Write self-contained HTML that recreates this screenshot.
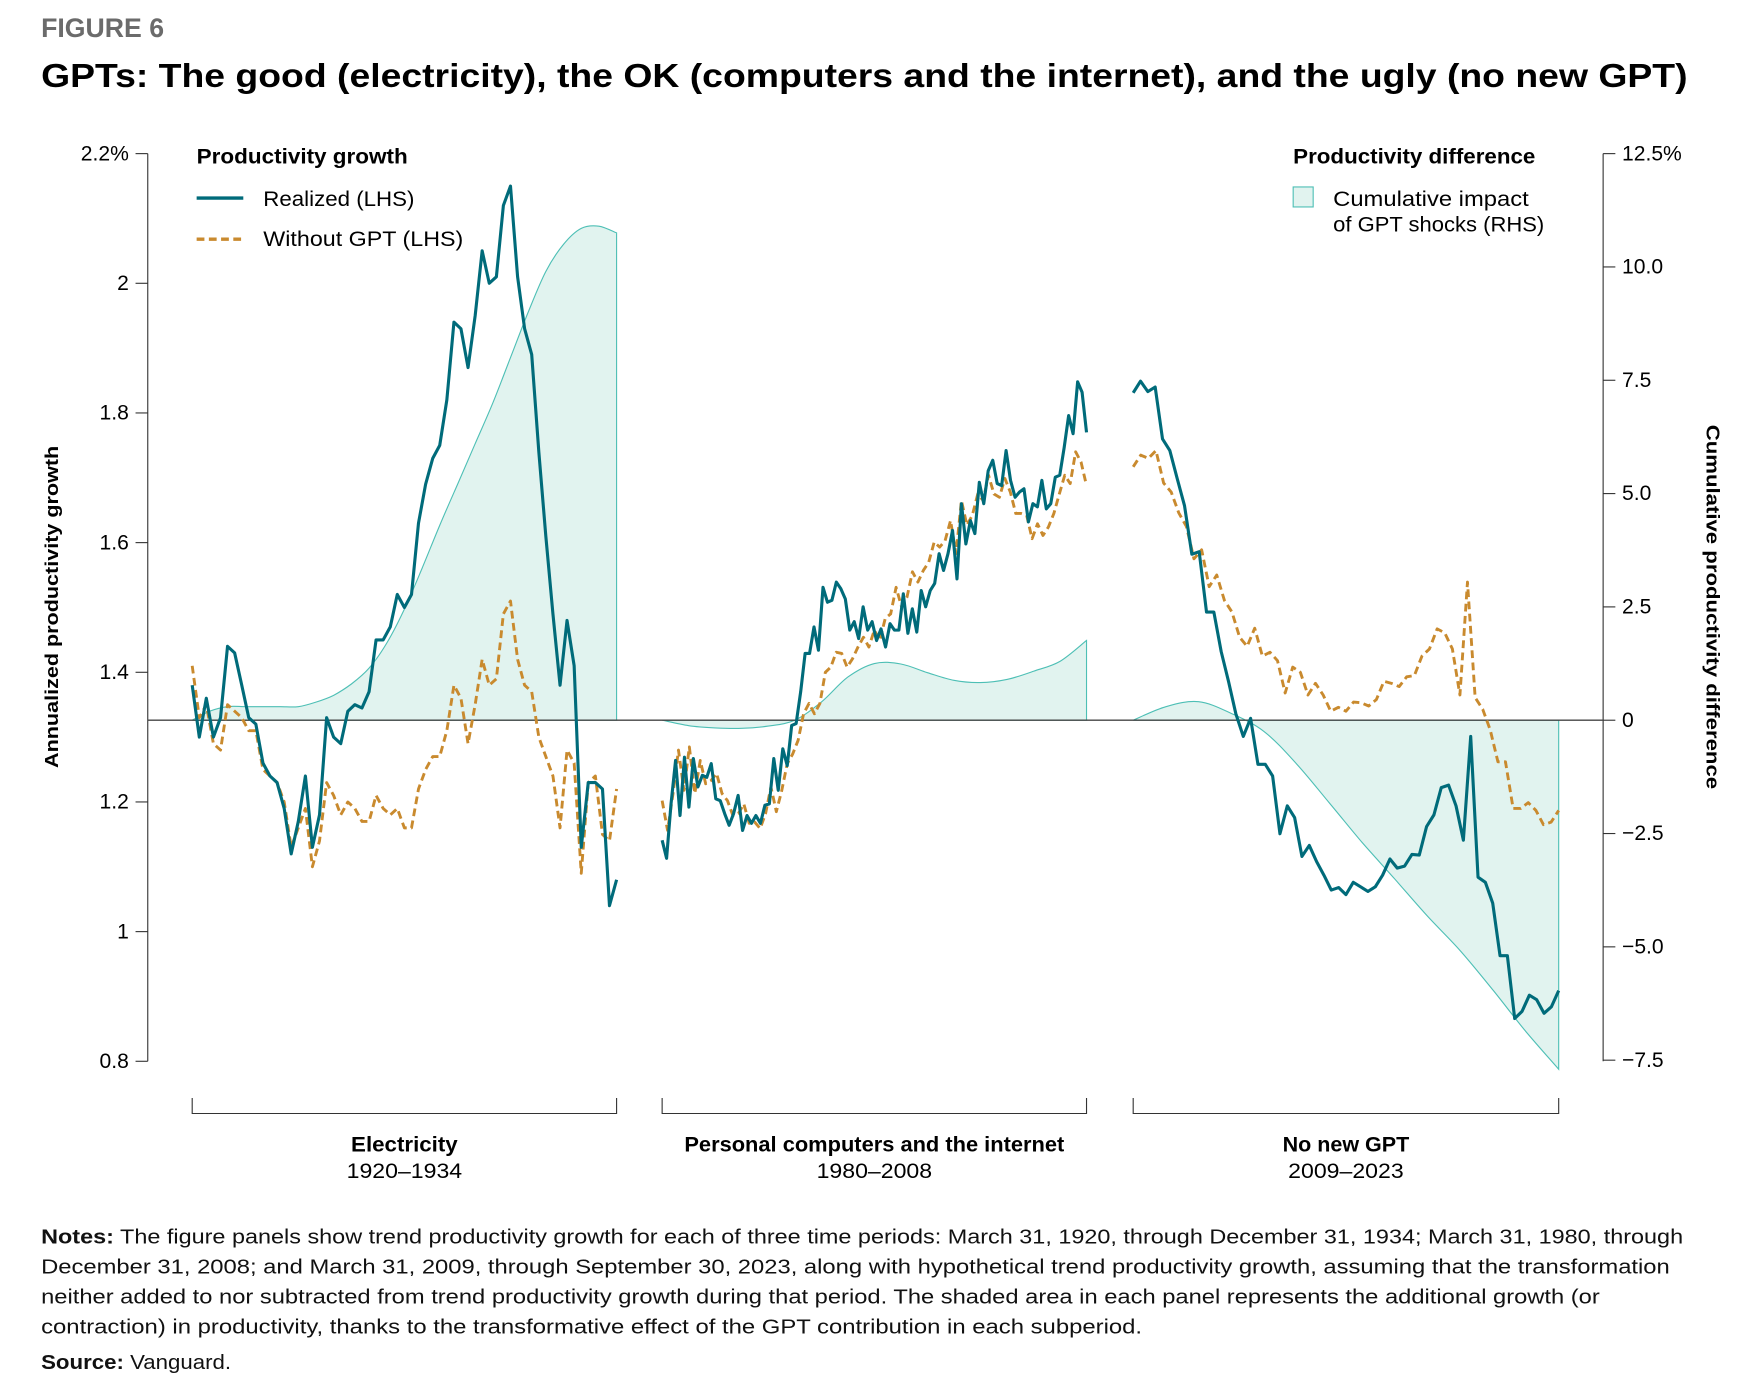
<!DOCTYPE html>
<html><head><meta charset="utf-8"><style>
html,body{margin:0;padding:0;background:#fff;}
svg{display:block;font-family:"Liberation Sans",sans-serif;}
</style></head><body>
<svg id="chart" width="1742" height="1396" viewBox="0 0 1568 1256" xmlns="http://www.w3.org/2000/svg">
<text x="37" y="33" font-size="24" font-weight="bold" fill="#6b6b6b">FIGURE 6</text>
<text x="37" y="78" font-size="30" font-weight="bold" fill="#000" textLength="1482" lengthAdjust="spacingAndGlyphs">GPTs: The good (electricity), the OK (computers and the internet), and the ugly (no new GPT)</text>
<g id="axes"></g>
<g id="areas"></g>
<line x1="133" y1="648" x2="1443" y2="648" stroke="#444" stroke-width="1.2"/>
<g id="lines"></g>
<g>
<text x="177" y="147" font-size="19" font-weight="bold" textLength="190" lengthAdjust="spacingAndGlyphs">Productivity growth</text>
<line x1="177" y1="178" x2="219" y2="178" stroke="#006b7a" stroke-width="3"/>
<text x="237" y="185" font-size="19" textLength="136" lengthAdjust="spacingAndGlyphs">Realized (LHS)</text>
<line x1="177" y1="215" x2="219" y2="215" stroke="#c98a2e" stroke-width="3" stroke-dasharray="7,4"/>
<text x="237" y="221" font-size="19" textLength="180" lengthAdjust="spacingAndGlyphs">Without GPT (LHS)</text>
</g>
<g>
<text x="1164" y="147" font-size="19" font-weight="bold" textLength="218" lengthAdjust="spacingAndGlyphs">Productivity difference</text>
<rect x="1164" y="168" width="18" height="18" fill="#e1f3ef" stroke="#4dbfb5"/>
<text x="1200" y="185" font-size="19" textLength="176" lengthAdjust="spacingAndGlyphs">Cumulative impact</text>
<text x="1200" y="208" font-size="19" textLength="190" lengthAdjust="spacingAndGlyphs">of GPT shocks (RHS)</text>
</g>
<text transform="translate(52,546) rotate(-90)" text-anchor="middle" font-size="17" font-weight="bold" textLength="290" lengthAdjust="spacingAndGlyphs">Annualized productivity growth</text>
<text transform="translate(1536,546) rotate(90)" text-anchor="middle" font-size="17" font-weight="bold" textLength="328" lengthAdjust="spacingAndGlyphs">Cumulative productivity difference</text>
<g id="panels"></g>
<g font-size="18" fill="#111">
<text x="37" y="1119" textLength="1478" lengthAdjust="spacingAndGlyphs"><tspan font-weight="bold">Notes:</tspan> The figure panels show trend productivity growth for each of three time periods: March 31, 1920, through December 31, 1934; March 31, 1980, through</text>
<text x="37" y="1146" textLength="1466" lengthAdjust="spacingAndGlyphs">December 31, 2008; and March 31, 2009, through September 30, 2023, along with hypothetical trend productivity growth, assuming that the transformation</text>
<text x="37" y="1173" textLength="1403" lengthAdjust="spacingAndGlyphs">neither added to nor subtracted from trend productivity growth during that period. The shaded area in each panel represents the additional growth (or</text>
<text x="37" y="1200" textLength="991" lengthAdjust="spacingAndGlyphs">contraction) in productivity, thanks to the transformative effect of the GPT contribution in each subperiod.</text>
<text x="37" y="1232" textLength="171" lengthAdjust="spacingAndGlyphs"><tspan font-weight="bold">Source:</tspan> Vanguard.</text>
</g>
</svg>
<script>
const leftTicks = [2.2, 2.0, 1.8, 1.6, 1.4, 1.2, 1.0, 0.8];
const leftTickLabels = ["2.2%", "2", "1.8", "1.6", "1.4", "1.2", "1", "0.8"];
const rightTicks = [12.5, 10, 7.5, 5, 2.5, 0, -2.5, -5, -7.5];
const rightTickLabels = ["12.5%", "10.0", "7.5", "5.0", "2.5", "0", "\u22122.5", "\u22125.0", "\u22127.5"];
const panelNames = ["Electricity", "Personal computers and the internet", "No new GPT"];
const panelNameWidths = [96, 342, 114];
const panelYears = ["1920\u20131934", "1980\u20132008", "2009\u20132023"];

const elecRealized = [1.38,1.30,1.36,1.30,1.33,1.44,1.43,1.38,1.33,1.32,1.26,1.24,1.23,1.19,1.12,1.17,1.24,1.13,1.18,1.33,1.30,1.29,1.34,1.35,1.345,1.37,1.45,1.45,1.47,1.52,1.50,1.52,1.63,1.69,1.73,1.75,1.82,1.94,1.93,1.87,1.95,2.05,2.00,2.01,2.12,2.15,2.01,1.93,1.89,1.74,1.61,1.49,1.38,1.48,1.41,1.13,1.23,1.23,1.22,1.04,1.08];
const elecWithout = [1.41,1.33,1.35,1.29,1.28,1.35,1.34,1.33,1.31,1.31,1.25,1.24,1.23,1.20,1.13,1.16,1.19,1.10,1.14,1.23,1.21,1.18,1.20,1.19,1.17,1.17,1.21,1.19,1.18,1.19,1.16,1.16,1.22,1.25,1.27,1.27,1.31,1.38,1.36,1.29,1.35,1.42,1.38,1.39,1.49,1.51,1.42,1.38,1.37,1.30,1.27,1.24,1.16,1.28,1.26,1.09,1.23,1.24,1.15,1.14,1.22];
const elecDiff = [0,0.2,0.3,0.3,0.3,0.3,0.3,0.4,0.55,0.8,1.15,1.7,2.45,3.35,4.3,5.2,6.1,7.0,8.0,9.0,9.9,10.5,10.85,10.9,10.75];

const pcRealized = [1.141,1.113,1.197,1.264,1.179,1.269,1.192,1.267,1.223,1.241,1.238,1.259,1.205,1.202,1.182,1.164,1.182,1.210,1.156,1.179,1.167,1.179,1.167,1.195,1.197,1.267,1.218,1.282,1.256,1.318,1.321,1.370,1.429,1.429,1.470,1.434,1.531,1.508,1.511,1.539,1.529,1.513,1.465,1.478,1.452,1.501,1.465,1.478,1.449,1.467,1.439,1.475,1.465,1.465,1.521,1.460,1.498,1.462,1.526,1.501,1.526,1.537,1.583,1.557,1.583,1.619,1.544,1.660,1.598,1.634,1.614,1.693,1.660,1.711,1.727,1.691,1.688,1.742,1.696,1.670,1.678,1.683,1.632,1.660,1.655,1.696,1.652,1.660,1.701,1.704,1.747,1.796,1.768,1.848,1.832,1.770];
const pcWithout = [1.202,1.156,1.213,1.280,1.218,1.285,1.213,1.264,1.228,1.233,1.244,1.213,1.202,1.179,1.182,1.197,1.167,1.169,1.159,1.182,1.223,1.185,1.218,1.259,1.274,1.295,1.336,1.352,1.336,1.352,1.400,1.408,1.431,1.429,1.408,1.421,1.439,1.454,1.439,1.465,1.449,1.483,1.490,1.531,1.501,1.516,1.555,1.539,1.557,1.570,1.601,1.593,1.603,1.634,1.583,1.665,1.627,1.642,1.675,1.665,1.704,1.675,1.670,1.699,1.678,1.645,1.645,1.642,1.606,1.629,1.611,1.624,1.645,1.675,1.704,1.691,1.740,1.724,1.688];
const pcDiff = [0,-0.12,-0.17,-0.18,-0.13,0,0.4,0.95,1.25,1.24,1.05,0.88,0.83,0.9,1.08,1.3,1.76];

const ngRealized = [1.831,1.849,1.833,1.840,1.760,1.742,1.699,1.657,1.582,1.586,1.493,1.493,1.432,1.386,1.336,1.301,1.329,1.258,1.258,1.240,1.151,1.194,1.176,1.116,1.133,1.108,1.087,1.064,1.068,1.057,1.076,1.069,1.062,1.069,1.087,1.112,1.098,1.101,1.119,1.118,1.162,1.180,1.222,1.226,1.194,1.141,1.301,1.084,1.076,1.044,0.963,0.963,0.866,0.877,0.902,0.895,0.874,0.884,0.909];
const ngWithout = [1.717,1.735,1.730,1.742,1.692,1.678,1.646,1.625,1.575,1.589,1.532,1.550,1.511,1.493,1.454,1.440,1.468,1.425,1.431,1.418,1.368,1.408,1.400,1.365,1.383,1.365,1.340,1.346,1.340,1.354,1.353,1.348,1.358,1.386,1.383,1.378,1.393,1.395,1.425,1.436,1.467,1.461,1.436,1.365,1.539,1.361,1.343,1.311,1.262,1.262,1.190,1.190,1.199,1.187,1.165,1.169,1.187];
const ngDiff = [0,0.3,0.41,0.15,-0.25,-0.97,-1.83,-2.70,-3.51,-4.33,-5.09,-5.96,-6.87,-7.7];

const NS = "http://www.w3.org/2000/svg";
const yL = v => 138 + (2.2 - v) / 1.4 * 817;
const yR = v => 648 - v * 40.8;
const panelX = [[173,555],[596,978],[1020,1403]];
const xScale = (p, i, n) => panelX[p][0] + (panelX[p][1] - panelX[p][0]) * i / (n - 1);
function mk(tag, attrs, parent) {
  const e = document.createElementNS(NS, tag);
  for (const k in attrs) e.setAttribute(k, attrs[k]);
  parent.appendChild(e);
  return e;
}
function smooth(pts) {
  let d = 'M' + pts[0][0] + ',' + pts[0][1];
  for (let i = 0; i < pts.length - 1; i++) {
    const p0 = pts[Math.max(i - 1, 0)], p1 = pts[i], p2 = pts[i + 1], p3 = pts[Math.min(i + 2, pts.length - 1)];
    const c1x = p1[0] + (p2[0] - p0[0]) / 6, c1y = p1[1] + (p2[1] - p0[1]) / 6;
    const c2x = p2[0] - (p3[0] - p1[0]) / 6, c2y = p2[1] - (p3[1] - p1[1]) / 6;
    d += ` C${c1x.toFixed(1)},${c1y.toFixed(1)} ${c2x.toFixed(1)},${c2y.toFixed(1)} ${p2[0].toFixed(1)},${p2[1].toFixed(1)}`;
  }
  return d;
}
const axes = document.getElementById('axes');
const al = mk('line', {x1:133,y1:138,x2:133,y2:955,stroke:'#333','stroke-width':1}, axes);


const ar = mk('line', {x1:1443,y1:138,x2:1443,y2:955,stroke:'#333','stroke-width':1}, axes);


leftTicks.forEach((v, i) => {
  const y = yL(v);
  const t = mk('line', {x1:122,y1:y,x2:133,y2:y,stroke:'#333'}, axes);
  
  
  const tx = mk('text', {x:116,y:y+6,'text-anchor':'end','font-size':19}, axes);
  tx.textContent = leftTickLabels[i];
  
  
});
rightTicks.forEach((v, i) => {
  const y = yR(v);
  const t = mk('line', {x1:1443,y1:y,x2:1454,y2:y,stroke:'#333'}, axes);
  
  
  const tx = mk('text', {x:1460,y:y+6,'font-size':19}, axes);
  tx.textContent = rightTickLabels[i];
  
  
});
const areas = document.getElementById('areas');
const lines = document.getElementById('lines');
const sets = [[elecRealized, elecWithout, elecDiff], [pcRealized, pcWithout, pcDiff], [ngRealized, ngWithout, ngDiff]];
sets.forEach((s, p) => {
  const [r, w, d] = s;
  const pts = d.map((v, i) => [xScale(p, i, d.length), yR(v)]);
  const area = mk('path', {d: smooth(pts) + ` L${panelX[p][1]},648 L${panelX[p][0]},648 Z`, fill:'#e1f3ef', stroke:'#4dbfb5','stroke-width':1}, areas);
  
  
  const wl = mk('polyline', {points: w.map((v, i) => xScale(p, i, w.length).toFixed(1) + ',' + yL(v).toFixed(1)).join(' '), fill:'none', stroke:'#c98a2e','stroke-width':2.6,'stroke-dasharray':'7,4','stroke-linejoin':'round'}, lines);
  
  
  const rl = mk('polyline', {points: r.map((v, i) => xScale(p, i, r.length).toFixed(1) + ',' + yL(v).toFixed(1)).join(' '), fill:'none', stroke:'#006b7a','stroke-width':2.8,'stroke-linejoin':'round'}, lines);
  
  
});
const panels = document.getElementById('panels');
panelNames.forEach((n, p) => {
  const [a, b] = panelX[p];
  const br = mk('path', {d:`M${a},988 V1002 H${b} V988`, fill:'none', stroke:'#333','stroke-width':1}, panels);
  
  
  const c = (a + b) / 2;
  const t1 = mk('text', {x:c,y:1036,'text-anchor':'middle','font-size':19,'font-weight':'bold',textLength:panelNameWidths[p],lengthAdjust:'spacingAndGlyphs'}, panels);
  t1.textContent = n;
  
  
  const t2 = mk('text', {x:c,y:1060,'text-anchor':'middle','font-size':19,textLength:104,lengthAdjust:'spacingAndGlyphs'}, panels);
  t2.textContent = panelYears[p];
  
  
});
</script>
</body></html>
